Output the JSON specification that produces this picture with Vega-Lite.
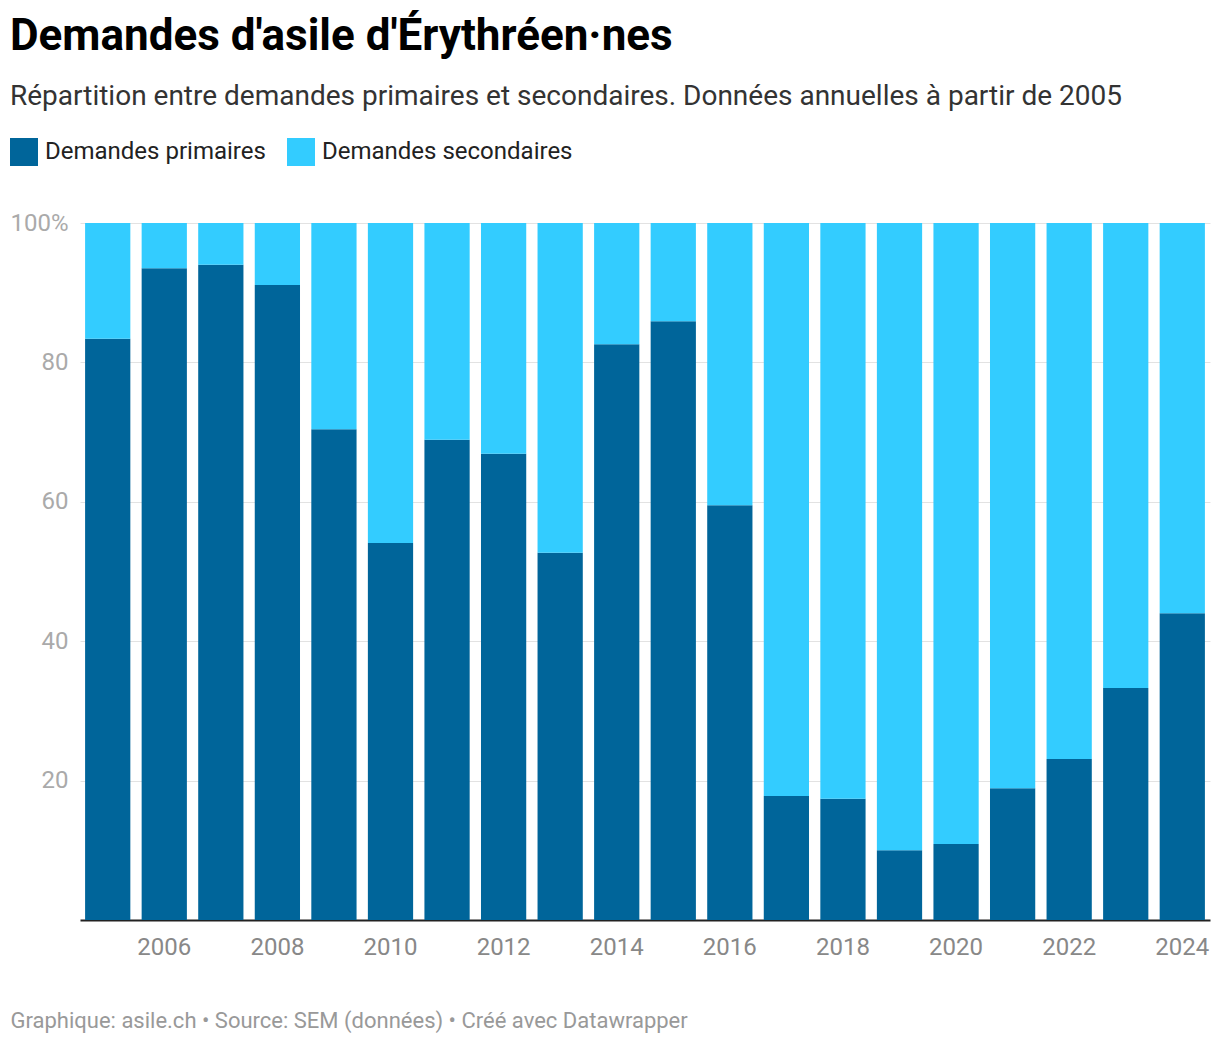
{
  "$schema": "https://vega.github.io/schema/vega-lite/v6.json",
  "width": 1130,
  "height": 697,
  "autosize": {"type": "none"},
  "padding": {"left": 80, "top": 223, "right": 10, "bottom": 124},
  "background": "white",
  "config": {
    "font": "Roboto",
    "view": {"stroke": null}
  },
  "title": {
    "text": "Demandes d'asile d'Érythréen·nes",
    "subtitle": "Répartition entre demandes primaires et secondaires. Données annuelles à partir de 2005",
    "anchor": "start",
    "frame": "group",
    "dx": -70,
    "fontSize": 44,
    "fontWeight": "bold",
    "color": "#000000",
    "subtitleFontSize": 28,
    "subtitleColor": "#333333",
    "subtitlePadding": 24,
    "offset": 27
  },
  "data": {
    "values": [
      {"year": "2005", "type": "Demandes primaires", "pct": 83.4},
      {"year": "2005", "type": "Demandes secondaires", "pct": 16.6},
      {"year": "2006", "type": "Demandes primaires", "pct": 93.5},
      {"year": "2006", "type": "Demandes secondaires", "pct": 6.5},
      {"year": "2007", "type": "Demandes primaires", "pct": 94.0},
      {"year": "2007", "type": "Demandes secondaires", "pct": 6.0},
      {"year": "2008", "type": "Demandes primaires", "pct": 91.1},
      {"year": "2008", "type": "Demandes secondaires", "pct": 8.9},
      {"year": "2009", "type": "Demandes primaires", "pct": 70.4},
      {"year": "2009", "type": "Demandes secondaires", "pct": 29.6},
      {"year": "2010", "type": "Demandes primaires", "pct": 54.1},
      {"year": "2010", "type": "Demandes secondaires", "pct": 45.9},
      {"year": "2011", "type": "Demandes primaires", "pct": 68.9},
      {"year": "2011", "type": "Demandes secondaires", "pct": 31.1},
      {"year": "2012", "type": "Demandes primaires", "pct": 66.9},
      {"year": "2012", "type": "Demandes secondaires", "pct": 33.1},
      {"year": "2013", "type": "Demandes primaires", "pct": 52.7},
      {"year": "2013", "type": "Demandes secondaires", "pct": 47.3},
      {"year": "2014", "type": "Demandes primaires", "pct": 82.6},
      {"year": "2014", "type": "Demandes secondaires", "pct": 17.4},
      {"year": "2015", "type": "Demandes primaires", "pct": 85.9},
      {"year": "2015", "type": "Demandes secondaires", "pct": 14.1},
      {"year": "2016", "type": "Demandes primaires", "pct": 59.5},
      {"year": "2016", "type": "Demandes secondaires", "pct": 40.5},
      {"year": "2017", "type": "Demandes primaires", "pct": 17.8},
      {"year": "2017", "type": "Demandes secondaires", "pct": 82.2},
      {"year": "2018", "type": "Demandes primaires", "pct": 17.4},
      {"year": "2018", "type": "Demandes secondaires", "pct": 82.6},
      {"year": "2019", "type": "Demandes primaires", "pct": 10.0},
      {"year": "2019", "type": "Demandes secondaires", "pct": 90.0},
      {"year": "2020", "type": "Demandes primaires", "pct": 10.9},
      {"year": "2020", "type": "Demandes secondaires", "pct": 89.1},
      {"year": "2021", "type": "Demandes primaires", "pct": 18.9},
      {"year": "2021", "type": "Demandes secondaires", "pct": 81.1},
      {"year": "2022", "type": "Demandes primaires", "pct": 23.1},
      {"year": "2022", "type": "Demandes secondaires", "pct": 76.9},
      {"year": "2023", "type": "Demandes primaires", "pct": 33.3},
      {"year": "2023", "type": "Demandes secondaires", "pct": 66.7},
      {"year": "2024", "type": "Demandes primaires", "pct": 44.0},
      {"year": "2024", "type": "Demandes secondaires", "pct": 56.0}
    ]
  },
  "mark": {"type": "bar"},
  "encoding": {
    "x": {
      "field": "year",
      "type": "ordinal",
      "scale": {"paddingInner": 0.2, "paddingOuter": 0.09},
      "axis": {
        "values": ["2006", "2008", "2010", "2012", "2014", "2016", "2018", "2020", "2022", "2024"],
        "labelAngle": 0,
        "labelFontSize": 24,
        "labelColor": "#888888",
        "labelPadding": 15,
        "ticks": false,
        "domainColor": "#222222",
        "domainWidth": 2,
        "grid": false,
        "title": "Graphique: asile.ch • Source: SEM (données) • Créé avec Datawrapper",
        "titleFontSize": 22,
        "titleFontWeight": "normal",
        "titleColor": "#999999",
        "titleAnchor": "start",
        "titleAlign": "left",
        "titleBaseline": "alphabetic",
        "titleX": -70,
        "titleY": 107
      }
    },
    "y": {
      "field": "pct",
      "type": "quantitative",
      "stack": "zero",
      "scale": {"domain": [0, 100]},
      "axis": {
        "values": [20, 40, 60, 80, 100],
        "labelExpr": "datum.value == 100 ? '100%' : datum.label",
        "labelFontSize": 24,
        "labelColor": "#aaaaaa",
        "labelPadding": 12,
        "ticks": false,
        "domain": false,
        "gridColor": "#e2e2e2",
        "gridWidth": 1,
        "title": null
      }
    },
    "color": {
      "field": "type",
      "type": "nominal",
      "scale": {
        "domain": ["Demandes primaires", "Demandes secondaires"],
        "range": ["#00659a", "#33ccff"]
      },
      "legend": {
        "orient": "none",
        "legendX": -70,
        "legendY": -85,
        "direction": "horizontal",
        "title": null,
        "symbolType": "square",
        "symbolSize": 784,
        "symbolOpacity": 1,
        "symbolStrokeWidth": 0,
        "labelFontSize": 24,
        "labelLimit": 500,
        "labelColor": "#222222",
        "labelOffset": 7,
        "columnPadding": 21
      }
    },
    "order": {"field": "type", "sort": "ascending"}
  }
}
